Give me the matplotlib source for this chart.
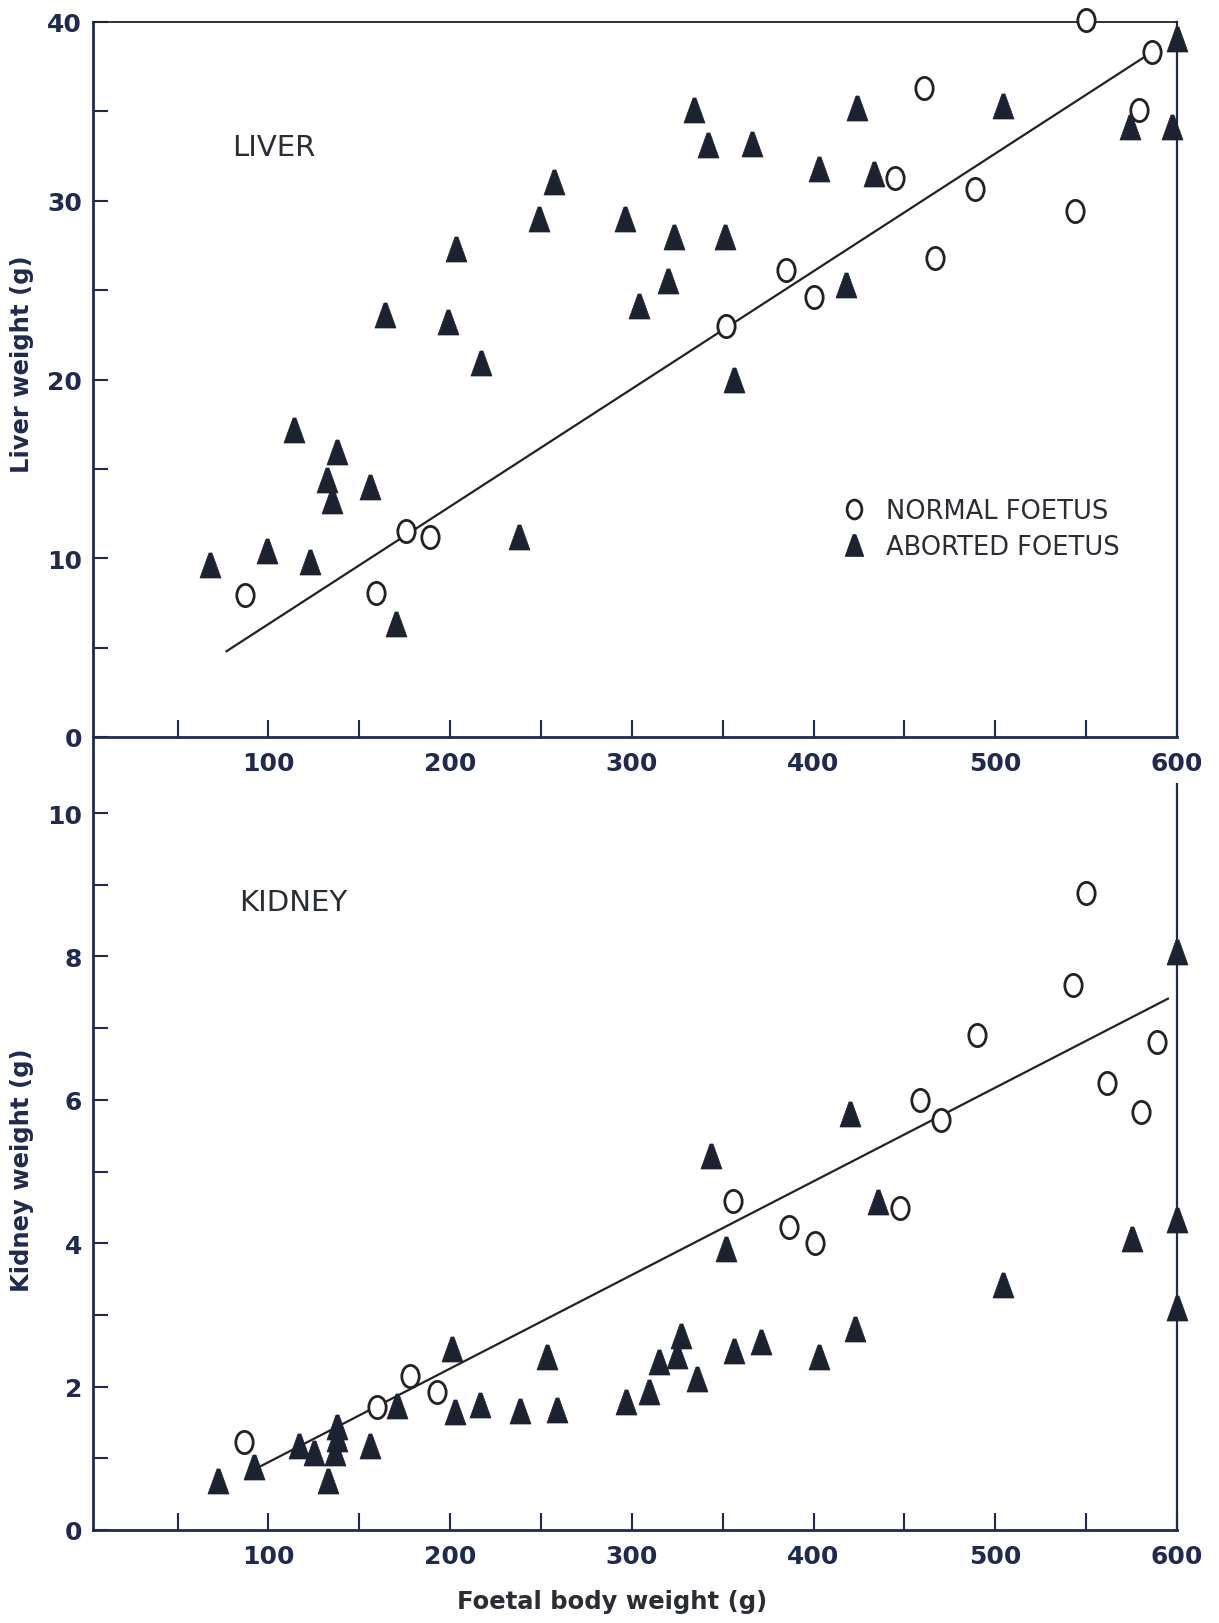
import matplotlib
matplotlib.use('Agg')
import matplotlib.pyplot as plt
import numpy as np
from matplotlib.path import Path
from matplotlib.lines import Line2D

# foetal body weight (g) vs liver weight (g)
liver_normal_bw = [87, 159, 176, 189, 352, 385, 400, 445, 461, 467, 489, 544, 550, 579, 586]
liver_normal_wt = [7.95, 8.06, 11.54, 11.18, 23.0, 26.1, 24.6, 31.3, 36.3, 26.8, 30.65, 29.4, 40.1, 35.07, 38.33]

liver_aborted_bw = [68, 99, 114, 123, 132, 135, 138, 156, 164, 170, 199, 203, 217, 238, 249, 257,
                    296, 304, 320, 323, 334, 342, 351, 356, 366, 403, 418, 424, 433, 504, 574, 597, 600]
liver_aborted_wt = [9.6, 10.4, 17.2, 9.8, 14.4, 13.2, 15.95, 14.0, 23.6, 6.3, 23.2, 27.3, 20.95, 11.2, 29.0, 31.07,
                    29.0, 24.1, 25.5, 28.0, 35.07, 33.1, 27.98, 20.0, 33.2, 31.8, 25.3, 35.2, 31.5, 35.3, 34.1, 34.1, 39.07]

# regression line through the normal foetuses (end points)
liver_fit_bw = [77, 586]
liver_fit_wt = [4.8, 38.3]

# foetal body weight (g) vs kidney weight (g)
kidney_normal_bw = [86.6, 159.6, 178, 193, 355.7, 386.4, 400.7, 447.6, 458.6, 470, 490, 543, 550, 561.6, 580, 589]
kidney_normal_wt = [1.23, 1.71, 2.15, 1.92, 4.59, 4.22, 4.0, 4.49, 6.0, 5.72, 6.9, 7.6, 8.89, 6.23, 5.83, 6.8]

kidney_aborted_bw = [72.5, 92, 117, 125, 132.6, 136.4, 137.5, 138, 155.7, 170.6, 201, 202.6, 216.5, 238.6, 253.4,
                     258.6, 297, 309.6, 315, 325, 327, 336, 343.7, 352, 356.5, 371, 403, 420, 422.8, 435.6,
                     504, 575, 600, 600, 600]
kidney_aborted_wt = [0.68, 0.88, 1.17, 1.07, 0.68, 1.08, 1.27, 1.43, 1.17, 1.73, 2.52, 1.64, 1.74, 1.66, 2.41,
                     1.68, 1.79, 1.92, 2.34, 2.42, 2.7, 2.1, 5.22, 3.92, 2.5, 2.62, 2.41, 5.8, 2.8, 4.57,
                     3.42, 4.06, 8.06, 4.32, 3.1]

kidney_fit_bw = [95, 595]
kidney_fit_wt = [0.88, 7.41]

x_major = [100, 200, 300, 400, 500, 600]
x_minor = [50, 150, 250, 350, 450, 550]

navy = '#1f2a4e'
ink = '#1d2230'
txt = '#2a2d33'

# tall "O" and blunt triangle markers
circ = Path.unit_circle()
o_marker = Path(circ.vertices * np.array([0.78, 1.0]), circ.codes)
tri_marker = Path([(-0.42, -0.5), (0.42, -0.5), (0.06, 0.5), (-0.06, 0.5), (-0.42, -0.5)],
                  [Path.MOVETO, Path.LINETO, Path.LINETO, Path.LINETO, Path.CLOSEPOLY])

fig = plt.figure(figsize=(12.19, 16.24), dpi=100)
ax1 = fig.add_axes([93 / 1219, 1 - 738 / 1624, 1084 / 1219, 715 / 1624])
ax2 = fig.add_axes([93 / 1219, 1 - 1531 / 1624, 1084 / 1219, 793 / 1624])
for ax in (ax1, ax2):
    ax.patch.set_visible(False)


def draw_panel(ax, nbw, nwt, abw, awt, fbw, fwt):
    ax.plot(fbw, fwt, color='#222222', lw=1.6, zorder=2)
    ax.plot(abw, awt, linestyle='none', marker=tri_marker, ms=18, color=ink,
            mec=ink, mew=0.5, zorder=3, clip_on=False)
    ax.plot(nbw, nwt, linestyle='none', marker=o_marker, ms=16, mfc='white',
            mec='#222222', mew=2.0, zorder=4, clip_on=False)
    ax.set_xlim(3.5, 600)
    ax.set_xticks(x_major)
    ax.set_xticks(x_minor, minor=True)
    ax.tick_params(axis='both', which='both', direction='in', colors=navy,
                   width=1.5, labelsize=18)
    ax.tick_params(axis='x', which='both', length=12, pad=10)
    ax.tick_params(axis='y', which='both', length=11, pad=8)
    for lab in ax.get_xticklabels() + ax.get_yticklabels():
        lab.set_fontweight('bold')
        lab.set_color(navy)
    for s in ax.spines.values():
        s.set_color(navy)
        s.set_linewidth(2.0)


# liver
draw_panel(ax1, liver_normal_bw, liver_normal_wt, liver_aborted_bw, liver_aborted_wt,
           liver_fit_bw, liver_fit_wt)
ax1.set_ylim(0, 40)
ax1.set_yticks([0, 10, 20, 30, 40])
ax1.set_yticks([5, 15, 25, 35], minor=True)
ax1.spines['top'].set_linewidth(1.3)
ax1.spines['top'].set_color('#222222')
ax1.spines['right'].set_linewidth(1.6)
ax1.set_ylabel('Liver weight (g)', fontsize=17.5, fontweight='bold', color=navy)
ax1.yaxis.set_label_coords(-0.054, 0.523)
ax1.text(80, 33, 'LIVER', fontsize=21, color=txt, va='center', ha='left')

handles = [Line2D([], [], linestyle='none', marker=o_marker, ms=16, mfc='white', mec='#222222', mew=2.0),
           Line2D([], [], linestyle='none', marker=tri_marker, ms=18, color=ink)]
leg = ax1.legend(handles, ['NORMAL FOETUS', 'ABORTED FOETUS'], loc='upper left',
                 bbox_to_anchor=(0.69, 0.334), frameon=False, borderpad=0, borderaxespad=0,
                 handlelength=1.0, handletextpad=0.75, labelspacing=0.38, markerscale=0.85,
                 prop={'size': 18.5})
for t in leg.get_texts():
    t.set_color(txt)

# kidney
draw_panel(ax2, kidney_normal_bw, kidney_normal_wt, kidney_aborted_bw, kidney_aborted_wt,
           kidney_fit_bw, kidney_fit_wt)
ax2.set_ylim(0, 11.06)
ax2.set_yticks([0, 2, 4, 6, 8, 10])
ax2.set_yticks([1, 3, 5, 7, 9], minor=True)
ax2.spines['top'].set_visible(False)
ax2.spines['right'].set_bounds(0, 10.4)
ax2.spines['right'].set_linewidth(1.6)
ax2.set_ylabel('Kidney weight (g)', fontsize=17.5, fontweight='bold', color=navy)
ax2.yaxis.set_label_coords(-0.054, 0.455)
ax2.set_xlabel('Foetal body weight (g)', fontsize=17.5, fontweight='bold', color=txt)
ax2.xaxis.set_label_coords(0.479, -0.074)
ax2.text(84, 8.76, 'KIDNEY', fontsize=21, color=txt, va='center', ha='left')

fig.savefig('out.png', dpi=100, facecolor='white')
